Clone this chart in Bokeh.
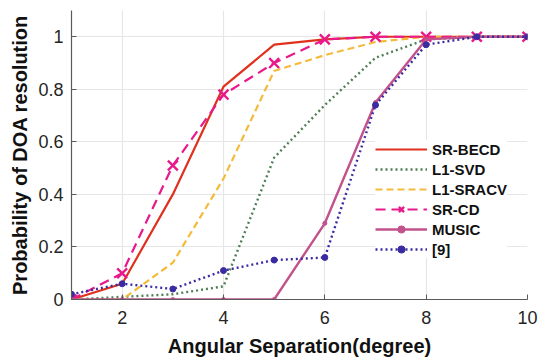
from bokeh.plotting import figure
from bokeh.models import Range1d, FixedTicker, Legend, LegendItem
from bokeh.embed import file_html
from bokeh.resources import INLINE

x = [1, 2, 3, 4, 5, 6, 7, 8, 9, 10]
sr_becd = [0.0, 0.06, 0.40, 0.81, 0.97, 0.99, 1.0, 1.0, 1.0, 1.0]
l1_svd = [0.0, 0.01, 0.02, 0.05, 0.54, 0.74, 0.92, 0.99, 1.0, 1.0]
l1_sracv = [0.0, 0.0, 0.14, 0.46, 0.87, 0.93, 0.98, 1.0, 1.0, 1.0]
sr_cd = [0.0, 0.10, 0.51, 0.78, 0.90, 0.99, 1.0, 1.0, 1.0, 1.0]
music = [0.0, 0.0, 0.0, 0.0, 0.0, 0.29, 0.75, 0.99, 1.0, 1.0]
ref9 = [0.02, 0.06, 0.04, 0.11, 0.15, 0.16, 0.74, 0.97, 1.0, 1.0]

x_ticks = [2, 4, 6, 8, 10]
y_ticks = [0, 0.2, 0.4, 0.6, 0.8, 1]
y_tick_labels = ["0", "0.2", "0.4", "0.6", "0.8", "1"]

FONT = "Liberation Sans"

p = figure(width=539, height=361, output_backend="svg", toolbar_location=None,
           x_range=Range1d(1, 10), y_range=Range1d(0, 1.1),
           min_border_left=71, min_border_right=12, min_border_top=10,
           min_border_bottom=62)
p.outline_line_color = None
p.background_fill_color = "white"

for ax in (p.xaxis[0], p.yaxis[0]):
    ax.axis_line_color = "#5a5a5a"
    ax.axis_line_width = 1.2
    ax.major_tick_line_color = "#5a5a5a"
    ax.major_tick_in = 5
    ax.major_tick_out = 0
    ax.minor_tick_line_color = None
    ax.major_label_text_font = FONT
    ax.major_label_text_font_size = "18px"
    ax.major_label_text_color = "#262626"
    ax.axis_label_text_font = FONT
    ax.axis_label_text_font_style = "bold"
    ax.axis_label_text_font_size = "20px"
    ax.axis_label_text_color = "#111111"

p.xaxis.ticker = FixedTicker(ticks=x_ticks)
p.yaxis.ticker = FixedTicker(ticks=y_ticks)
p.yaxis.major_label_overrides = {t: s for t, s in zip(y_ticks, y_tick_labels)}
p.xaxis.axis_label = "Angular Separation(degree)"
p.yaxis.axis_label = "Probability of DOA resolution"
p.xaxis.major_label_standoff = 11
p.yaxis.major_label_standoff = 8
p.xaxis.axis_label_standoff = 8
p.yaxis.axis_label_standoff = 4

p.xgrid.ticker = FixedTicker(ticks=x_ticks)
p.ygrid.ticker = FixedTicker(ticks=y_ticks)
p.grid.grid_line_color = "#e6e6e6"
p.grid.grid_line_width = 1.2

r1 = p.line(x, sr_becd, color="#e0301e", line_width=2.2)
r2 = p.line(x, l1_svd, color="#4f7f55", line_width=2.4, line_dash="2 3")
r3 = p.line(x, l1_sracv, color="#f4bb3a", line_width=2.2, line_dash="7 4")
r4 = p.line(x, sr_cd, color="#e8198b", line_width=2.2, line_dash="10 6")
r4m = p.scatter(x, sr_cd, marker="x", size=14, line_color="#e8198b", line_width=2.4)
r5 = p.line(x, music, color="#c2528c", line_width=2.4)
r5m = p.scatter(x, music, marker="circle", size=4, fill_color="#c2528c", line_color="#c2528c")
r6 = p.line(x, ref9, color="#3a2ca0", line_width=2.4, line_dash="2 3")
r6m = p.scatter(x, ref9, marker="circle", size=6, fill_color="#3a2ca0", line_color="#3a2ca0")

legend = Legend(items=[
    LegendItem(label="SR-BECD", renderers=[r1]),
    LegendItem(label="L1-SVD", renderers=[r2]),
    LegendItem(label="L1-SRACV", renderers=[r3]),
    LegendItem(label="SR-CD", renderers=[r4, r4m]),
    LegendItem(label="MUSIC", renderers=[r5, r5m]),
    LegendItem(label="[9]", renderers=[r6, r6m]),
], location=(304, 41))
legend.label_text_font = FONT
legend.label_text_font_style = "bold"
legend.label_text_font_size = "15px"
legend.label_text_color = "#111111"
legend.glyph_width = 52
legend.glyph_height = 18
legend.label_height = 18
legend.spacing = 2
legend.padding = 8
legend.margin = 0
legend.label_standoff = 5
legend.border_line_color = None
legend.background_fill_alpha = 1.0
p.add_layout(legend)

open("out.html", "w").write(file_html(p, INLINE))
